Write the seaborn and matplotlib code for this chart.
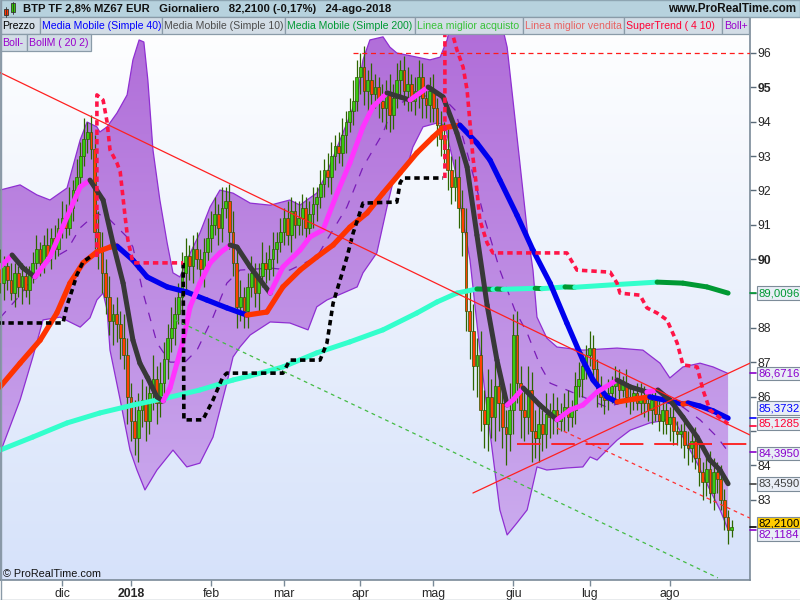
# BTP future daily chart with moving averages, Bollinger bands and SuperTrend
import numpy as np
import pandas as pd
import matplotlib
matplotlib.use("Agg")
import matplotlib.pyplot as plt
import seaborn as sns
from matplotlib.collections import LineCollection
from matplotlib.colors import LinearSegmentedColormap
from matplotlib.patches import Rectangle

sns.set_theme(style="white")
plt.rcParams['font.family'] = ['Liberation Sans', 'DejaVu Sans']


# trading days (Eurex holidays removed)
holidays = ['2017-12-25', '2017-12-26', '2018-01-01', '2018-03-30', '2018-04-02', '2018-05-01']
days = pd.bdate_range('2017-11-06', '2018-08-24')
days = days[~days.isin(pd.to_datetime(holidays))]
month_names = ['dic', '2018', 'feb', 'mar', 'apr', 'mag', 'giu', 'lug', 'ago']

# daily closes
first_open = 90.0
closes = [
    90.2, 89.9, 89.3, 89.8, 89.4, 89.0, 89.6, 89.2, 89.5, 89.1,
    89.6, 89.9, 90.3, 89.9, 90.4, 90.1, 90.6, 90.3, 90.9, 91.2,
    90.9, 91.5, 92.0, 92.4, 93.0, 93.5, 93.7, 93.2, 90.8, 90.3,
    89.6, 88.9, 88.2, 88.4, 88.1, 87.7, 87.2, 86.0, 85.3, 84.8,
    85.6, 85.9, 85.3, 86.1, 86.5, 85.8, 86.4, 87.1, 87.7, 88.0,
    88.4, 88.9, 89.6, 90.1, 89.8, 90.3, 90.0, 89.7, 90.2, 90.6,
    91.0, 91.3, 90.9, 91.5, 91.7, 90.8, 89.9, 88.6, 88.9, 88.5,
    89.2, 89.6, 89.0, 89.5, 89.9, 89.7, 90.0, 90.3, 90.5, 90.8,
    91.2, 90.7, 91.4, 91.0, 91.2, 91.5, 90.9, 91.3, 91.6, 91.8,
    92.2, 92.6, 92.4, 93.0, 93.3, 93.1, 93.6, 94.0, 94.3, 94.6,
    95.3, 95.6, 94.9, 95.2, 94.8, 95.0, 94.6, 94.4, 94.8, 94.2,
    94.7, 95.2, 95.5, 94.9, 95.1, 94.6, 94.9, 95.3, 94.7, 94.5,
    94.9, 94.4, 93.9, 93.5, 93.2, 92.6, 92.1, 92.4, 91.5, 90.8,
    88.5, 87.9, 86.9, 87.2, 85.6, 85.2, 86.0, 85.4, 86.3, 85.8,
    85.1, 84.9, 85.6, 87.8, 86.4, 85.6, 85.4, 86.2, 85.0, 84.8,
    85.2, 84.9, 85.5, 85.4, 85.6, 85.3, 85.5, 85.7, 85.4, 85.6,
    86.3, 86.5, 86.9, 87.2, 87.4, 86.8, 86.2, 86.0, 85.9, 86.1,
    86.3, 86.5, 86.2, 86.4, 86.0, 85.9, 86.1, 85.8, 86.0, 85.8,
    85.6, 85.9, 85.5, 85.3, 85.6, 85.2, 85.4, 85.0, 84.9, 85.0,
    84.6, 84.5, 84.7, 84.2, 83.8, 83.5, 83.9, 83.2, 83.8, 83.6,
    83.0, 82.5, 82.1, 82.21,
]
wick_up = [
    .3, .2, .4, .3, .2, .5, .3, .2, .4, .3,
    .2, .3, .4, .2, .3, .5, .3, .4, .3, .5,
    .4, .6, .3, .5, .4, .6, .3, .5, .4, .6,
    .5, .4, .6, .3, .5, .4, .7, .5, .4, .6,
    .5, .6, .4, .5, .7, .4, .6, .5, .4, .6,
    .5, .4, .6, .5, .3, .4, .5, .3, .4, .6,
    .4, .5, .3, .6, .4, .5, .6, .4, .5, .3,
    .4, .5, .3, .4, .6, .3, .4, .5, .3, .4,
    .3, .5, .4, .3, .5, .4, .3, .4, .5, .3,
    .4, .3, .5, .4, .3, .4, .5, .3, .4, .6,
    .5, .4, .6, .3, .5, .4, .3, .5, .4, .6,
    .4, .5, .3, .4, .5, .3, .4, .5, .4, .3,
    .4, .5, .3, .4, .5, .6, .4, .5, .6, .5,
    .7, .6, .8, .5, .7, .6, .8, .5, .7, .6,
    .7, .5, .8, .6, .7, .5, .6, .7, .5, .6,
    .5, .4, .6, .3, .5, .4, .3, .4, .5, .3,
    .4, .5, .4, .3, .5, .4, .3, .4, .3, .4,
    .3, .4, .3, .2, .4, .3, .2, .3, .4, .3,
    .3, .2, .3, .4, .3, .2, .3, .4, .3, .2,
    .3, .4, .3, .4, .5, .3, .4, .5, .4, .3,
    .4, .3, .2, .2,
]
wick_dn = [
    .2, .4, .3, .5, .3, .2, .4, .3, .5, .2,
    .4, .3, .2, .4, .3, .2, .4, .3, .2, .3,
    .3, .2, .4, .3, .2, .3, .4, .3, .5, .6,
    .6, .5, .4, .7, .5, .6, .4, .8, .6, .5,
    .7, .5, .6, .4, .5, .6, .4, .5, .6, .4,
    .5, .3, .4, .6, .4, .5, .3, .4, .5, .3,
    .4, .3, .5, .4, .3, .5, .4, .6, .4, .5,
    .5, .3, .4, .5, .3, .4, .3, .5, .4, .3,
    .4, .3, .5, .4, .3, .5, .4, .3, .4, .5,
    .3, .4, .3, .5, .4, .3, .4, .5, .3, .4,
    .3, .5, .4, .6, .3, .4, .5, .4, .6, .5,
    .4, .3, .5, .4, .6, .3, .4, .5, .6, .4,
    .5, .4, .6, .5, .4, .6, .5, .4, .6, .7,
    .6, .8, .7, .9, .6, .7, .8, .6, .7, .8,
    .6, .9, .5, .7, .6, .8, .7, .5, .9, .6,
    .7, .5, .4, .6, .5, .4, .3, .5, .4, .3,
    .4, .3, .5, .4, .3, .4, .5, .3, .4, .3,
    .3, .4, .3, .2, .3, .4, .3, .2, .3, .4,
    .3, .4, .2, .3, .4, .3, .5, .4, .3, .4,
    .4, .5, .4, .3, .4, .5, .4, .3, .5, .4,
    .3, .4, .4, .2,
]

# indicators (x = trading-day index)
sma10_x = [2.0, 5.3, 8.3, 11.6, 15.7, 20.4, 24.0, 26.7, 30.3, 33.0, 35.8, 38.5, 40.4, 42.4, 45.1, 46.8,
           48.7, 50.6, 52.3, 54.2, 56.9, 59.7, 62.4, 65.2, 67.1, 70.7, 76.2, 79.7, 84.4, 87.1, 90.7, 94.6,
           98.1, 101.7, 104.4, 108.3, 111.9, 114.6, 119.6, 123.7, 127.5, 130.3, 133.0, 135.8, 138.5, 141.3,
           142.9, 145.7, 150.3, 155.0, 158.6, 162.1, 166.0, 171.5, 175.1, 179.7, 182.7, 186.0, 189.6, 193.5,
           197.0, 199.8, 202.0]
sma10_v = [89.77, 90.12, 89.74, 89.48, 90.06, 91.23, 92.10, 92.30, 91.72, 90.47, 89.30, 87.64, 86.97, 86.57,
           85.99, 85.87, 86.25, 86.97, 87.64, 88.61, 89.30, 89.89, 90.18, 90.41, 90.35, 89.77, 89.01, 89.77,
           90.26, 90.64, 90.85, 91.92, 92.80, 93.85, 94.43, 94.84, 94.72, 94.63, 95.01, 94.72, 93.67, 92.68,
           90.70, 88.66, 87.06, 85.75, 85.90, 86.25, 85.75, 85.32, 85.61, 85.75, 86.13, 86.48, 86.28, 86.13,
           86.19, 85.90, 85.40, 84.82, 84.15, 83.86, 83.46]

sma40_x = [2.0, 7.5, 13.0, 17.6, 21.2, 24.8, 28.6, 32.2, 34.1, 38.5, 42.4, 47.9, 53.3, 58.8, 64.3, 69.8,
           75.3, 79.7, 84.4, 89.0, 93.5, 98.1, 102.8, 107.2, 111.9, 116.5, 120.9, 123.7, 128.3, 133.0, 136.6,
           139.3, 144.0, 148.4, 153.1, 157.7, 162.1, 164.9, 168.7, 171.5, 176.4, 180.5, 189.6, 191.0, 194.3,
           197.9, 202.0]
sma40_v = [86.28, 86.97, 87.64, 88.43, 89.30, 89.89, 90.21, 90.35, 90.38, 89.97, 89.48, 89.19, 89.04, 88.81,
           88.58, 88.37, 88.46, 89.19, 89.68, 90.06, 90.41, 90.93, 91.34, 91.92, 92.51, 93.09, 93.55, 93.82,
           93.90, 93.38, 92.88, 92.30, 91.28, 90.26, 89.30, 88.14, 87.06, 86.48, 85.99, 85.84, 85.93, 85.99,
           85.78, 85.81, 85.72, 85.58, 85.37]

sma200_x = [2.0, 11.0, 20.4, 29.4, 38.5, 47.9, 56.9, 66.0, 70.7, 79.7, 89.0, 98.1, 107.2, 116.5, 122.0,
            127.5, 133.0, 137.4, 138.5, 140.2, 149.0, 150.9, 157.2, 159.9, 171.5, 182.5, 189.6, 196.2, 202.0]
sma200_v = [84.44, 84.82, 85.23, 85.52, 85.75, 85.96, 86.19, 86.48, 86.60, 86.86, 87.27, 87.59, 87.94, 88.43,
            88.75, 89.01, 89.13, 89.12, 89.13, 89.12, 89.15, 89.14, 89.19, 89.18, 89.26, 89.33, 89.30, 89.19,
            89.01]

bb_up_x = [2.0, 7.5, 12.1, 15.7, 20.4, 24.0, 25.9, 28.6, 29.4, 31.4, 34.1, 36.9, 38.5, 40.2, 41.5, 42.6,
           44.0, 45.9, 47.9, 49.5, 51.4, 53.3, 56.9, 59.7, 62.4, 66.0, 70.7, 76.2, 81.6, 84.4, 86.3, 89.0,
           91.8, 94.6, 97.3, 100.1, 101.7, 103.6, 107.2, 109.1, 111.0, 116.5, 120.1, 122.9, 124.8, 127.0,
           139.3, 140.2, 141.3, 142.9, 144.8, 146.8, 148.4, 149.5, 152.2, 155.0, 162.1, 171.5, 178.6, 183.3,
           186.0, 189.6, 194.3, 197.9, 202.0]
bb_up_v = [92.01, 92.16, 91.87, 91.72, 92.07, 93.47, 93.99, 93.85, 93.70, 93.85, 94.25, 94.78, 95.80, 96.38,
           96.32, 95.21, 93.18, 91.72, 90.47, 89.60, 89.48, 89.97, 90.76, 91.52, 92.01, 91.92, 91.63, 91.57,
           91.72, 91.57, 91.72, 91.92, 92.51, 93.26, 93.96, 94.72, 95.80, 96.38, 96.47, 96.17, 96.00, 95.88,
           95.80, 95.88, 96.38, 97.40, 97.40, 96.67, 96.17, 94.63, 92.80, 90.85, 89.68, 88.31, 87.70, 87.44,
           87.35, 87.41, 87.35, 86.97, 86.54, 86.86, 86.97, 86.86, 86.67]
bb_dn_x = [2.0, 7.5, 11.0, 13.8, 18.5, 24.0, 26.7, 28.6, 30.3, 31.4, 32.2, 35.0, 37.7, 39.6, 41.8, 45.1,
           49.5, 53.3, 56.9, 60.5, 64.3, 66.0, 67.9, 70.7, 76.2, 81.6, 86.6, 89.0, 91.8, 96.2, 100.1, 101.7,
           105.5, 108.3, 109.9, 113.8, 115.4, 118.2, 122.0, 124.2, 127.0, 128.9, 131.1, 133.8, 136.6, 139.3,
           141.3, 144.0, 146.8, 149.5, 152.2, 157.7, 162.1, 164.1, 166.0, 168.7, 171.5, 175.1, 180.5, 185.2,
           186.9, 189.6, 193.5, 197.0, 199.8, 202.0]
bb_dn_v = [84.36, 85.90, 87.15, 88.23, 88.31, 88.02, 88.29, 88.81, 89.01, 88.52, 87.35, 85.90, 84.44, 83.86,
           83.28, 83.86, 84.44, 83.95, 84.06, 84.82, 86.39, 87.15, 87.44, 87.79, 88.17, 88.14, 87.94, 88.61,
           88.81, 89.01, 89.19, 89.60, 90.18, 91.52, 92.22, 92.68, 93.26, 93.85, 93.96, 93.90, 92.59, 91.28,
           89.97, 87.35, 84.94, 82.70, 81.97, 82.32, 82.70, 83.95, 83.86, 83.92, 83.95, 84.24, 84.15, 84.44,
           84.73, 85.02, 85.23, 85.32, 85.40, 84.82, 84.06, 83.28, 82.70, 82.12]
bb_mid_x = [2.0, 7.5, 11.0, 15.7, 20.4, 24.0, 28.6, 32.2, 36.9, 38.5, 41.3, 45.1, 48.7, 52.8, 56.1, 60.5,
            64.3, 67.9, 76.2, 81.6, 89.0, 91.8, 97.3, 101.7, 107.2, 109.9, 115.4, 122.9, 127.0, 131.1, 135.2,
            139.3, 143.4, 146.8, 150.3, 153.1, 157.7, 168.7, 177.0, 182.5, 189.6, 194.3, 199.0, 202.0]
bb_mid_v = [88.29, 88.95, 89.48, 89.97, 90.26, 90.91, 91.34, 91.14, 90.64, 90.35, 89.01, 87.56, 87.00, 87.00,
            87.35, 88.31, 89.30, 89.68, 89.74, 89.68, 90.06, 90.56, 91.52, 92.68, 93.67, 94.43, 94.72, 94.78,
            94.34, 92.80, 91.14, 89.68, 88.52, 87.85, 86.92, 86.39, 86.19, 85.69, 85.96, 85.90, 85.69, 85.32,
            84.82, 84.40]

# SuperTrend: black below price, red above price (nan = break)
nan = np.nan
st_black_x = [0.0, 19.3, 20.4, 21.8, 23.1, 24.8, 26.7, nan, 52.3, 52.5, 57.7, 60.5, 63.2, 64.3, 79.7, 81.6,
              89.9, 91.8, 93.5, 95.4, 97.3, 99.0, 101.7, 111.0, 111.9, 112.7, 123.7]
st_black_v = [88.14, 88.14, 88.66, 89.10, 89.54, 89.92, 90.06, nan, 89.89, 85.32, 85.32, 85.90, 86.57, 86.68,
              86.68, 87.06, 87.06, 87.56, 88.72, 89.39, 90.06, 90.76, 91.63, 91.66, 92.22, 92.36, 92.36]
st_red_x = [28.6, 28.6, 30.3, 31.4, 32.2, 34.1, 35.0, 36.3, 37.1, 38.5, 52.3, nan, 124.2, 124.2, 125.6, 127.5,
            129.2, 130.3, 131.1, 131.9, 133.0, 133.8, 135.8, 137.4, 157.7, 160.5, 169.6, 171.5, 172.3, 177.8,
            179.7, 182.5, 185.2, 188.0, 189.6, 193.5, 195.1, 197.0, 202.0]
st_red_v = [90.06, 94.78, 94.63, 93.99, 93.18, 92.80, 92.54, 91.28, 90.56, 89.89, 89.89, nan, 92.36, 96.96,
            96.82, 96.09, 95.59, 94.92, 93.96, 92.97, 92.01, 91.14, 90.47, 90.18, 90.18, 89.68, 89.62, 89.30,
            89.01, 88.95, 88.58, 88.43, 88.23, 87.56, 86.92, 86.86, 86.19, 85.61, 85.20]

# hand drawn trend lines
tl_down_x, tl_down_v = [1.98, 208.0], [95.43, 84.88]
tl_up_x, tl_up_v = [131.9, 208.0], [83.19, 86.97]
tl_sell_x, tl_sell_v = [155.0, 208.0], [85.08, 82.46]
tl_buy_x, tl_buy_v = [50.1, 199.2], [88.23, 80.72]
hl_top_x, hl_top_v = [98.9, 208.0], [96.0, 96.0]
hl_mid_x, hl_mid_v = [144.0, 208.0], [84.62, 84.62]

# right-axis value tags: value, text colour, box colour, nudge (pt)
value_tags = [
    (89.0096, '#009933', '#e9eef6', 0.0),
    (86.6716, '#8a00cc', '#e9eef6', 0.0),
    (85.3732, '#0000ff', '#e9eef6', 7.0),
    (85.1285, '#ff0033', '#e9eef6', 2.0),
    (84.3950, '#8a00cc', '#e9eef6', -1.4),
    (83.4590, '#404040', '#e9eef6', 0.0),
    (82.2100, '#000000', '#ffcc00', 2.2),
    (82.1184, '#8a00cc', '#e9eef6', -3.4),
]
hidden_ticks = ['85', '89']

XMIN, XMAX = 1.98, 208.02
YMIN, YMAX = 80.658, 97.048

fig = plt.figure(figsize=(8, 6), dpi=100)
fig.patch.set_facecolor('white')
rect = [0, 20 / 600, 750 / 800, 563 / 600]

# plot background gradient
bg = fig.add_axes(rect, zorder=0)
bg.imshow(np.linspace(0, 1, 256).reshape(-1, 1), aspect='auto', extent=(0, 1, 0, 1),
          cmap=LinearSegmentedColormap.from_list('bg', ['#ffffff', '#d6e2fa']))
bg.axis('off')

ax = fig.add_axes(rect, zorder=1)
ax.patch.set_alpha(0)

# Bollinger band fill (gradient clipped to the band)
band = ax.fill(bb_up_x + bb_dn_x[::-1], bb_up_v + bb_dn_v[::-1], facecolor='none', edgecolor='none')[0]
im = ax.imshow(np.linspace(0, 1, 256).reshape(-1, 1), extent=(XMIN, XMAX, YMIN, YMAX), origin='lower',
               aspect='auto', zorder=1,
               cmap=LinearSegmentedColormap.from_list('bb', ['#cdb0f0', '#b06cd8']))
im.set_clip_path(band)
ax.plot(bb_up_x, bb_up_v, color='#8f2fd2', lw=0.9, zorder=2)
ax.plot(bb_dn_x, bb_dn_v, color='#8f2fd2', lw=0.9, zorder=2)
ax.plot(bb_mid_x, bb_mid_v, color='#7a1cb8', lw=0.9, dashes=(7, 7), zorder=2)

# candles
idx = np.arange(len(closes))
c = np.array(closes)
o = np.r_[first_open, c[:-1]]
hi = np.maximum(o, c) + np.array(wick_up)
lo = np.minimum(o, c) - np.array(wick_dn)
rising = c >= o
body = np.where(np.abs(c - o) < 0.05, 0.05, c - o)
ax.vlines(idx, lo, hi, color='#2e6600', lw=0.9, zorder=3)
ax.bar(idx, body, bottom=o, width=0.75, color=np.where(rising, '#3acc10', '#ff4000'),
       edgecolor='#2a5a00', linewidth=0.5, zorder=4)


def slope_line(xs, vs, c_up, c_dn, lw):
    pts = np.column_stack([xs, vs])
    segs = np.stack([pts[:-1], pts[1:]], axis=1)
    cols = [c_up if b >= a else c_dn for a, b in zip(vs[:-1], vs[1:])]
    ax.add_collection(LineCollection(segs, colors=cols, linewidths=lw, capstyle='round', zorder=6))


slope_line(sma200_x, sma200_v, '#33ffcc', '#009933', 3.6)
slope_line(sma40_x, sma40_v, '#ff3300', '#0000ee', 3.8)
slope_line(sma10_x, sma10_v, '#ff33ff', '#383838', 3.6)

# SuperTrend
ax.plot(st_black_x, st_black_v, color='#000000', lw=2.6, dashes=(1.5, 1.1), zorder=7)
ax.plot(st_red_x, st_red_v, color='#ff1447', lw=2.6, dashes=(1.5, 1.1), zorder=7)

# trend lines
sns.lineplot(x=tl_down_x, y=tl_down_v, ax=ax, color='#ff2020', lw=0.9, zorder=8)
sns.lineplot(x=tl_up_x, y=tl_up_v, ax=ax, color='#ff2020', lw=0.9, zorder=8)
ax.plot(tl_sell_x, tl_sell_v, color='#ff3030', lw=0.9, dashes=(3, 3), zorder=8)
ax.plot(tl_buy_x, tl_buy_v, color='#44bb44', lw=0.9, dashes=(3, 3), zorder=8)
ax.plot(hl_top_x, hl_top_v, color='#ff1a1a', lw=0.9, dashes=(4, 3), zorder=8)
ax.plot(hl_mid_x, hl_mid_v, color='#ff1a1a', lw=1.3, dashes=(13, 6), zorder=8)

ax.set_xlim(XMIN, XMAX)
ax.set_ylim(YMIN, YMAX)
ax.grid(False)

# axes
month_firsts = pd.date_range('2017-12-01', '2018-08-01', freq='MS')
month_pos = [int(np.argmax(days >= m)) for m in month_firsts]
ax.set_xticks(month_pos, labels=month_names)
for lab in ax.get_xticklabels():
    if lab.get_text() == '2018':
        lab.set_fontweight('bold')
        lab.set_fontsize(10)
ax.tick_params(axis='x', direction='out', length=4, width=1, color='#7a8a98', labelsize=8.8,
               pad=1.5, bottom=True)

ax.yaxis.tick_right()
yt = list(range(83, 97))
ax.set_yticks(yt, labels=['' if str(t) in hidden_ticks else str(t) for t in yt])
for lab in ax.get_yticklabels():
    if lab.get_text() in ('90', '95'):
        lab.set_fontweight('bold')
        lab.set_fontsize(9.6)
ax.tick_params(axis='y', direction='out', length=4, width=1, color='#5a6a78', labelsize=8.8,
               pad=1.5, right=True, left=False)
for side in ['left', 'bottom', 'right']:
    ax.spines[side].set_color('#7a8a98')
    ax.spines[side].set_linewidth(1.2)
ax.spines['top'].set_visible(False)

for v, tc, fc, dy in value_tags:
    ax.plot([1.0, 1.008], [v, v], transform=ax.get_yaxis_transform(), color=tc, lw=1.2,
            clip_on=False, zorder=12)
    ax.annotate(f"{v:.4f}".replace('.', ','), xy=(1.0, v), xycoords=ax.get_yaxis_transform(),
                xytext=(6.0, dy), textcoords='offset points', va='center', ha='left',
                fontsize=8.2, color=tc, zorder=13, annotation_clip=False,
                bbox=dict(boxstyle='square,pad=0.16', fc=fc, ec='#7d8c99', lw=0.8))

# header, legend boxes and credits
ov = fig.add_axes([0, 0, 1, 1], zorder=10)
ov.set_xlim(0, 800)
ov.set_ylim(600, 0)
ov.axis('off')
ov.patch.set_alpha(0)

ov.add_patch(Rectangle((0, 0), 800, 17, fc='#b7d2de', ec='#8ea5b2', lw=1))
ov.add_patch(Rectangle((4, 9), 4, 6, fc='#ff3300', ec='#333333', lw=0.6))
ov.plot([6, 6], [7, 16.5], color='#333333', lw=0.6)
ov.add_patch(Rectangle((11, 3), 4, 9, fc='#33cc00', ec='#333333', lw=0.6))
ov.plot([13, 13], [1.5, 14], color='#333333', lw=0.6)
ov.text(23, 9, 'BTP TF 2,8% MZ67 EUR   Giornaliero   82,2100 (-0,17%)   24-ago-2018',
        fontsize=8.1, fontweight='bold', va='center', ha='left', color='#111111')
ov.text(796, 9, 'www.ProRealTime.com', fontsize=8.4, fontweight='bold', va='center', ha='right',
        color='#111111')

legend_row1 = [("Prezzo", '#000000'), ("Media Mobile (Simple 40)", '#0000ff'),
               ("Media Mobile (Simple 10)", '#4d4d4d'), ("Media Mobile (Simple 200)", '#009933'),
               ("Linea miglior acquisto", '#38c238'), ("Linea miglior vendita", '#e86262'),
               ("SuperTrend ( 4 10)", '#ff0033'), ("Boll+", '#9900cc')]
legend_row2 = [("Boll-", '#9900cc'), ("BollM ( 20 2)", '#9900cc')]
edges1 = [0, 40, 162, 285, 415, 523, 624, 722, 749]
edges2 = [0, 27, 91]
for row, edges, y0 in [(legend_row1, edges1, 17), (legend_row2, edges2, 34)]:
    for (txt, col), x0, x1 in zip(row, edges[:-1], edges[1:]):
        ov.add_patch(Rectangle((x0, y0), x1 - x0, 16.5, fc='#d3dde6', ec='#8a9ba8', lw=0.9))
        ov.text(x0 + 2.0, y0 + 8.8, txt, fontsize=7.6, color=col, va='center', ha='left')

ov.text(3, 574, '\u00a9 ProRealTime.com', fontsize=7.8, va='center', ha='left', color='#111111')
ov.plot([0.5, 0.5], [0, 600], color='#8a9aa8', lw=1)
ov.plot([0, 800], [599.5, 599.5], color='#8a9aa8', lw=1)

fig.savefig('out.png', dpi=100)
